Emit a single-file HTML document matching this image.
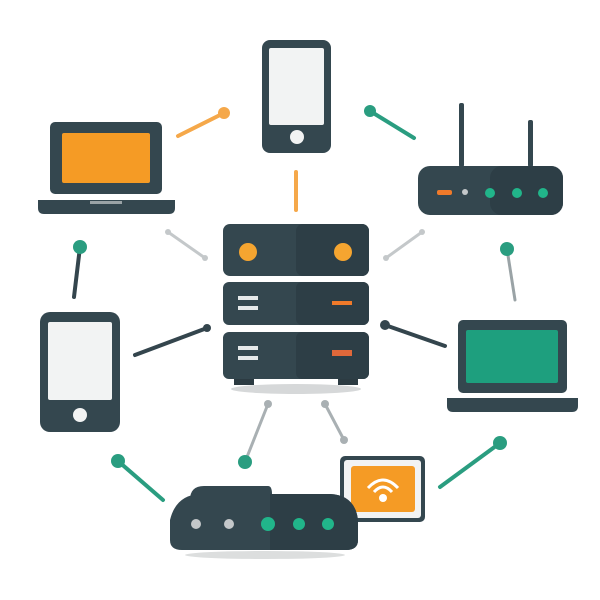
<!DOCTYPE html>
<html><head><style>body{margin:0;background:#fff}svg{display:block}</style></head><body>
<svg width="600" height="600" viewBox="0 0 600 600" xmlns="http://www.w3.org/2000/svg">
<g stroke-linecap="round" fill="none">
<line x1="178" y1="136" x2="224" y2="113" stroke="#f5a84a" stroke-width="4"/>
<line x1="296" y1="172" x2="296" y2="210" stroke="#f5a84a" stroke-width="4"/>
<line x1="370" y1="111" x2="414" y2="138" stroke="#2a9d80" stroke-width="4"/>
<line x1="168" y1="232" x2="205" y2="258" stroke="#c4c8ca" stroke-width="3"/>
<line x1="386" y1="258" x2="422" y2="232" stroke="#c4c8ca" stroke-width="3"/>
<line x1="80" y1="247" x2="74" y2="297" stroke="#34454d" stroke-width="4"/>
<line x1="507" y1="249" x2="515" y2="300" stroke="#9aa3a6" stroke-width="3"/>
<line x1="135" y1="355" x2="207" y2="328" stroke="#34454d" stroke-width="4"/>
<line x1="385" y1="325" x2="445" y2="346" stroke="#34454d" stroke-width="4"/>
<line x1="268" y1="404" x2="245" y2="462" stroke="#a9b0b3" stroke-width="3"/>
<line x1="325" y1="404" x2="344" y2="440" stroke="#a9b0b3" stroke-width="3"/>
<line x1="118" y1="461" x2="163" y2="500" stroke="#2a9d80" stroke-width="4"/>
<line x1="500" y1="443" x2="440" y2="487" stroke="#2a9d80" stroke-width="4"/>
</g>
<g>
<circle cx="224" cy="113" r="6" fill="#f5a84a"/>
<circle cx="370" cy="111" r="6" fill="#2a9d80"/>
<circle cx="168" cy="232" r="3" fill="#c4c8ca"/><circle cx="205" cy="258" r="3" fill="#c4c8ca"/>
<circle cx="386" cy="258" r="3" fill="#c4c8ca"/><circle cx="422" cy="232" r="3" fill="#c4c8ca"/>
<circle cx="80" cy="247" r="7" fill="#2a9d80"/>
<circle cx="507" cy="249" r="7" fill="#2a9d80"/>
<circle cx="207" cy="328" r="4" fill="#34454d"/><circle cx="385" cy="325" r="5" fill="#34454d"/>
<circle cx="268" cy="404" r="4" fill="#a9b0b3"/><circle cx="245" cy="462" r="7" fill="#2a9d80"/>
<circle cx="325" cy="404" r="4" fill="#a9b0b3"/><circle cx="344" cy="440" r="4" fill="#a9b0b3"/>
<circle cx="118" cy="461" r="7" fill="#2a9d80"/><circle cx="500" cy="443" r="7" fill="#2a9d80"/>
</g>
<!-- server -->
<ellipse cx="296" cy="389" rx="65" ry="5" fill="#d6d8d9"/>
<rect x="234" y="375" width="20" height="10" fill="#2c3b42"/><rect x="338" y="375" width="20" height="10" fill="#2c3b42"/>
<rect x="223" y="224" width="146" height="52" rx="7" fill="#34474f"/>
<rect x="296" y="224" width="73" height="52" rx="7" fill="#2d3e46"/>
<circle cx="248" cy="252" r="9" fill="#f5a530"/><circle cx="343" cy="252" r="9" fill="#f5a530"/>
<rect x="223" y="282" width="146" height="43" rx="6" fill="#34474f"/>
<rect x="296" y="282" width="73" height="43" rx="6" fill="#2d3e46"/>
<rect x="238" y="296" width="20" height="4" fill="#e6e9ea"/><rect x="238" y="306" width="20" height="4" fill="#e6e9ea"/>
<rect x="332" y="301" width="20" height="4" fill="#f07a2a"/>
<rect x="223" y="332" width="146" height="47" rx="6" fill="#34474f"/>
<rect x="296" y="332" width="73" height="47" rx="6" fill="#2d3e46"/>
<rect x="238" y="346" width="20" height="4" fill="#e6e9ea"/><rect x="238" y="356" width="20" height="4" fill="#e6e9ea"/>
<rect x="332" y="350" width="20" height="6" fill="#e0683a"/>
<!-- top phone -->
<rect x="262" y="40" width="69" height="113" rx="8" fill="#34474f"/>
<rect x="269" y="48" width="55" height="77" rx="2" fill="#f2f3f3"/>
<circle cx="297" cy="137" r="7" fill="#f2f3f3"/>
<!-- laptop top-left -->
<rect x="50" y="122" width="112" height="72" rx="5" fill="#34474f"/>
<rect x="62" y="133" width="88" height="50" rx="2" fill="#f59b25"/>
<path d="M38 200 H175 V208 Q175 214 169 214 H44 Q38 214 38 208Z" fill="#34474f"/>
<rect x="90" y="201" width="32" height="3" fill="#9aa3a6"/>
<!-- router right -->
<rect x="459" y="103" width="5" height="64" rx="2" fill="#34474f"/>
<rect x="528" y="120" width="5" height="47" rx="2" fill="#34474f"/>
<rect x="418" y="166" width="145" height="49" rx="12" fill="#34474f"/>
<rect x="490" y="166" width="73" height="49" rx="12" fill="#2d3e46"/>
<rect x="437" y="190" width="15" height="5" rx="2" fill="#f07a2a"/>
<circle cx="465" cy="192" r="3" fill="#c4c8ca"/>
<circle cx="490" cy="193" r="5" fill="#21b58a"/><circle cx="517" cy="193" r="5" fill="#21b58a"/><circle cx="543" cy="193" r="5" fill="#21b58a"/>
<!-- phone left -->
<rect x="40" y="312" width="80" height="120" rx="10" fill="#34474f"/>
<rect x="48" y="322" width="64" height="78" rx="2" fill="#f2f3f3"/>
<circle cx="80" cy="415" r="7" fill="#f2f3f3"/>
<!-- laptop right -->
<rect x="458" y="320" width="109" height="73" rx="5" fill="#34474f"/>
<rect x="466" y="330" width="92" height="53" rx="2" fill="#1e9f7e"/>
<path d="M447 398 H578 V406 Q578 412 572 412 H453 Q447 412 447 406Z" fill="#34474f"/>
<!-- tablet -->
<rect x="340" y="456" width="85" height="66" rx="5" fill="#34474f"/>
<rect x="344" y="460" width="77" height="58" rx="3" fill="#f2f3f3"/>
<rect x="351" y="466" width="64" height="46" rx="3" fill="#f59b25"/>
<path d="M368 488 Q383 472 398 488" stroke="#fff" stroke-width="3" fill="none"/>
<path d="M374 492 Q383 482 392 492" stroke="#fff" stroke-width="3" fill="none"/>
<circle cx="383" cy="498" r="4" fill="#fff"/>
<!-- bottom router -->
<ellipse cx="265" cy="555" rx="80" ry="4" fill="#dcdede"/>
<path d="M190 500 Q190 486 204 486 H268 Q272 486 272 494 V500Z" fill="#34474f"/>
<path d="M170 520 Q176 495 200 494 H330 Q355 495 358 520 V540 Q358 550 346 550 H182 Q170 550 170 540Z" fill="#34474f"/>
<path d="M270 494 H330 Q355 495 358 520 V540 Q358 550 346 550 H270Z" fill="#2d3e46"/>
<circle cx="196" cy="524" r="5" fill="#c4c8ca"/><circle cx="229" cy="524" r="5" fill="#c4c8ca"/>
<circle cx="268" cy="524" r="7" fill="#21b58a"/><circle cx="299" cy="524" r="6" fill="#21b58a"/><circle cx="328" cy="524" r="6" fill="#21b58a"/>
</svg>
</body></html>
